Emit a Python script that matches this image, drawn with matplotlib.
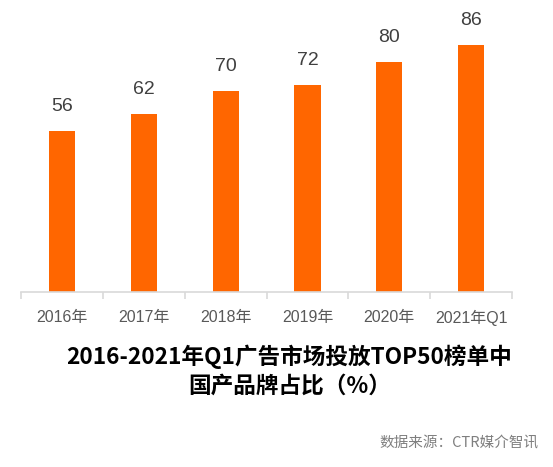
import numpy as np
import matplotlib.pyplot as plt

plt.rcParams['font.family'] = ['Liberation Sans', 'Noto Sans CJK SC', 'DejaVu Sans']

years = ['2016年', '2017年', '2018年', '2019年', '2020年', '2021年Q1']
share = [56, 62, 70, 72, 80, 86]

fig = plt.figure(figsize=(5.53, 4.67), dpi=100)
ax = fig.add_axes([0.038, 0.375, 0.888, 0.584])

x = np.arange(len(years))
ax.bar(x, share, width=0.32, color='#FF6600')
for xi, v in zip(x, share):
    ax.text(xi, v + 5.5, str(v), ha='center', va='bottom', fontsize=14, color='#404040')

ax.set_xlim(-0.5, len(years) - 0.5)
ax.set_ylim(0, 95)
ax.set_yticks([])
for s in ['top', 'right', 'left']:
    ax.spines[s].set_visible(False)
ax.spines['bottom'].set_color('#d9d9d9')
ax.spines['bottom'].set_linewidth(1.2)

# ticks between categories, labels centred
ax.set_xticks(np.arange(-0.5, len(years)), minor=False)
ax.set_xticklabels([])
ax.tick_params(axis='x', length=5, color='#d9d9d9', width=1.2)
ax.set_xticks(x, minor=True)
ax.set_xticklabels(years, minor=True, fontsize=11.5, color='#595959')
ax.tick_params(axis='x', which='minor', length=0, pad=13)

fig.text(0.523, 0.205, '2016-2021年Q1广告市场投放TOP50榜单中\n国产品牌占比（%）',
         ha='center', va='center', fontsize=16.3, fontweight='bold', color='#000000',
         linespacing=1.35, family=['Noto Sans CJK SC'])
fig.text(0.973, 0.05, '数据来源：CTR媒介智讯', ha='right', va='center',
         fontsize=10.5, color='#7f7f7f', family=['Noto Sans CJK SC'])

fig.savefig('out.png', dpi=100)
